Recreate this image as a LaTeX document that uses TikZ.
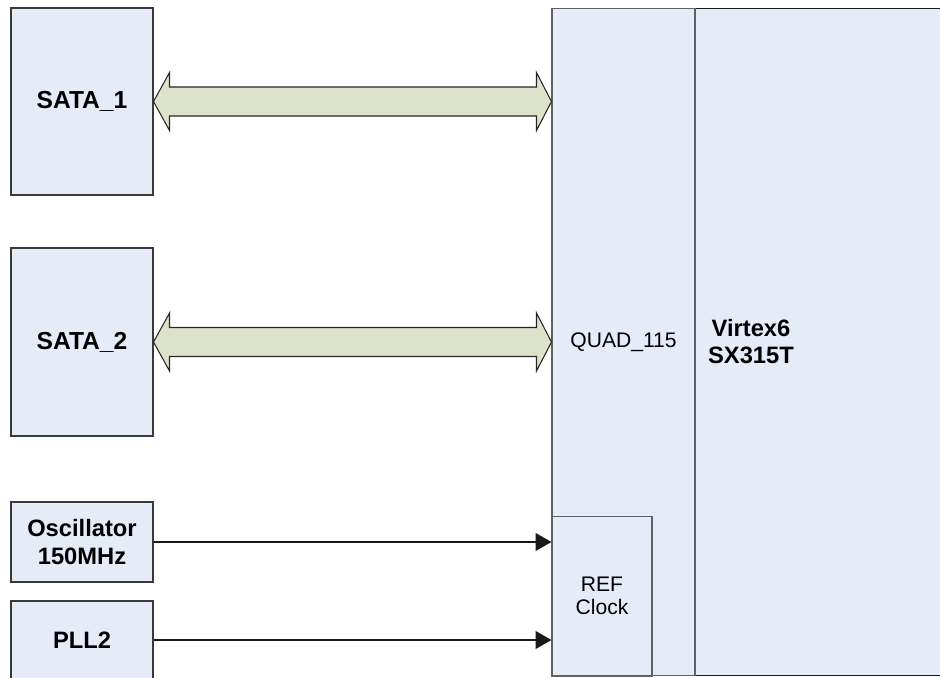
\documentclass[tikz,border=0pt]{standalone}
\usepackage{fontspec}
\setmainfont{Liberation Sans}
\usepackage{xcolor}
\usepackage{tikz}
\usetikzlibrary{arrows.meta,positioning,calc}
\definecolor{boardfill}{HTML}{E6ECF7}
\definecolor{busfill}{HTML}{DDE2CB}
\definecolor{edgegrey}{HTML}{3A3A3A}
\tikzset{
  >={Triangle[length=9pt,width=10pt]},
  blockbox/.style={rectangle,draw=edgegrey,line width=0.6pt,fill=boardfill,
                   align=center,inner sep=0pt,text=black},
  portbox/.style={blockbox,minimum width=2.84cm,
                  font=\fontsize{13.5}{15.6}\selectfont\bfseries},
  satabox/.style={portbox,font=\fontsize{14}{17}\selectfont\bfseries},
  subbox/.style={blockbox,draw=edgegrey!80,font=\fontsize{12}{13.2}\selectfont},
  busarrow/.style={draw=black!85,line width=0.6pt,fill=busfill,line join=miter},
  clockarrow/.style={->,line width=1.1pt,draw=black!90},
}
% macro for the wide two-way bus arrow between two tips
\newcommand{\buslink}[2]{%
  \draw[busarrow] (#1) -- ++(16,-29) -- ++(0,14.5)
    -- ($(#2)+(-15,-14.5)$) -- ++(0,-14.5) -- (#2) -- ++(-15,29) -- ++(0,-14.5)
    -- ($(#1)+(16,14.5)$) -- ++(0,14.5) -- cycle;}

\begin{document}
\begin{tikzpicture}[x=0.02cm,y=-0.02cm]
  \useasboundingbox (0,0) rectangle (940,677);
  \clip (0,0) rectangle (940,677);
  % FPGA and its sub-blocks (right side runs off the page)
  \node[blockbox,draw=black!90,minimum width=9cm,minimum height=13.36cm] (fpga) at (777,342) {};
  \node[font=\fontsize{13.5}{15.4}\selectfont\bfseries,align=center] (fpganame) at (751,342) {Virtex6\\SX315T};
  \node[subbox,minimum width=2.86cm,minimum height=13.36cm] (quad) at (623.5,342) {QUAD\_115};
  \node[subbox,minimum width=2cm,minimum height=3.2cm] (ref) at (602,596) {REF\\Clock};
  % outside devices
  \node[satabox,minimum height=3.74cm] (sata1) at (82,101.5) {SATA\_1};
  \node[satabox,minimum height=3.76cm] (sata2) at (82,342) {SATA\_2};
  \node[portbox,minimum height=1.6cm] (osc) at (82,542) {Oscillator\\150MHz};
  \node[portbox,minimum height=1.56cm] (pll) at (82,640) {PLL2};
  % links
  \buslink{sata1.east}{sata1.east -| quad.west}
  \buslink{sata2.east}{sata2.east -| quad.west}
  \draw[clockarrow] (osc.east) -- (osc.east -| ref.west);
  \draw[clockarrow] (pll.east) -- (pll.east -| ref.west);
\end{tikzpicture}
\end{document}
